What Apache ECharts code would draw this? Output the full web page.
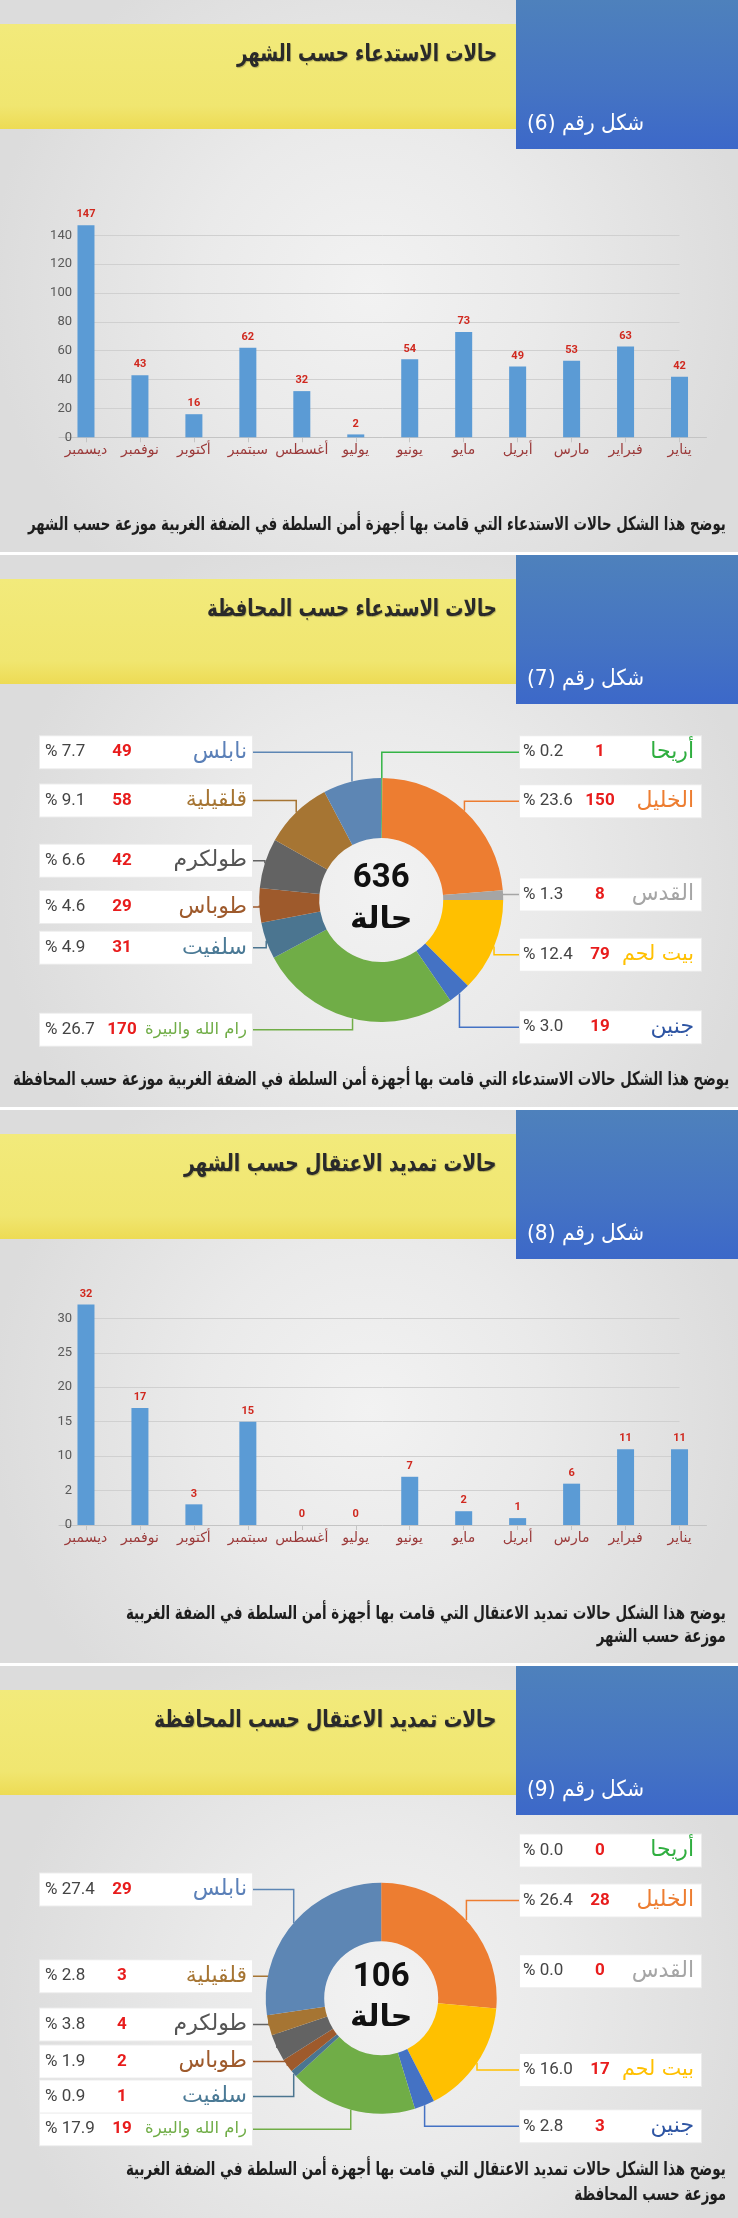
<!DOCTYPE html>
<html dir="ltr">
<head>
<meta charset="utf-8">
<script src="https://cdn.jsdelivr.net/npm/echarts@6/dist/echarts.min.js"></script>
<style>
html,body{margin:0;padding:0;}
body{width:738px;height:2218px;position:relative;overflow:hidden;background:#dedede;font-family:"DejaVu Sans",sans-serif;}
.sec{position:absolute;left:0;width:738px;}
.sep{position:absolute;left:0;width:738px;height:3px;background:#ffffff;z-index:3;}
.band{position:absolute;left:0;width:516px;height:105px;background:linear-gradient(#f2ea7b 0%,#f0e670 78%,#eddb54 100%);z-index:2;}
.blue{position:absolute;left:516px;width:222px;height:149px;background:linear-gradient(#4e81bc 0%,#4574c3 60%,#3c68c9 100%);z-index:2;}
.title{position:absolute;height:40px;line-height:40px;white-space:nowrap;direction:rtl;font-weight:bold;font-size:24px;color:#2a2a2a;text-shadow:1px 1px 1px rgba(0,0,0,0.25);z-index:6;transform-origin:100% 50%;}
.fig{position:absolute;left:527px;height:30px;line-height:30px;white-space:nowrap;direction:rtl;font-size:22px;color:#ffffff;z-index:6;transform-origin:0% 50%;}
.cap{position:absolute;height:26px;line-height:26px;white-space:nowrap;direction:rtl;font-weight:bold;font-size:19px;color:#1e1e1e;z-index:6;transform-origin:100% 50%;}
#chart{position:absolute;left:0;top:0;width:738px;height:2218px;z-index:5;}
</style>
</head>
<body>
<div id="chart"></div>
<script>
// ---------- data ----------
const months = ['ديسمبر','نوفمبر','أكتوبر','سبتمبر','أغسطس','يوليو','يونيو','مايو','أبريل','مارس','فبراير','يناير'];
const summonsByMonth = [147,43,16,62,32,2,54,73,49,53,63,42];
const extensionsByMonth = [32,17,3,15,0,0,7,2,1,6,11,11];
const yTicks1 = [0,20,40,60,80,100,120,140];
const yTicks3 = [0,5,10,15,20,25,30];
const yTickLabels3 = ['0','2','10','15','20','25','30'];
const provinces = ['أريحا','الخليل','القدس','بيت لحم','جنين','رام الله والبيرة','سلفيت','طوباس','طولكرم','قلقيلية','نابلس'];
const summonsByProvince = [1,150,8,79,19,170,31,29,42,58,49];
const extensionsByProvince = [0,28,0,17,3,19,1,2,4,3,29];
const unitWord = 'حالة';
const titles = ['حالات الاستدعاء حسب الشهر','حالات الاستدعاء حسب المحافظة','حالات تمديد الاعتقال حسب الشهر','حالات تمديد الاعتقال حسب المحافظة'];
const figLabels = ['شكل رقم (6)','شكل رقم (7)','شكل رقم (8)','شكل رقم (9)'];
const captions = [
  ['يوضح هذا الشكل حالات الاستدعاء التي قامت بها أجهزة أمن السلطة في الضفة الغربية موزعة حسب الشهر'],
  ['يوضح هذا الشكل حالات الاستدعاء التي قامت بها أجهزة أمن السلطة في الضفة الغربية موزعة حسب المحافظة'],
  ['يوضح هذا الشكل حالات تمديد الاعتقال التي قامت بها أجهزة أمن السلطة في الضفة الغربية','موزعة حسب الشهر'],
  ['يوضح هذا الشكل حالات تمديد الاعتقال التي قامت بها أجهزة أمن السلطة في الضفة الغربية','موزعة حسب المحافظة']
];

// ---------- styles / layout ----------
const provColors = ['#34b446','#ed7d31','#a5a5a5','#ffc000','#4472c4','#70ad47','#4b7590','#9e5a2c','#636363','#a67533','#5d86b4'];
const provTextColors = ['#2fae3f','#ed7d31','#a5a5a5','#ffc000','#2e55a3','#70ad47','#4b7a96','#9e5a2c','#555555','#a67533','#5b80b8'];
const sectionTops = [0,554.7,1110,1666];
const sectionGlow = [[370,290],[381,330],[370,300],[381,330]];
const titleRight = 496.7;
const titleWidths = [260,290,313,342];
const figWidth = 117;
const captionYs = [[523.3],[1078.3],[1611.7,1635],[2168.3,2192.7]];
const captionRight = [726,729,726,726];
const captionWidths = [698,716,600,600];
const pieRows = [
  {'أريحا':['R',752.2],'الخليل':['R',801.2],'القدس':['R',894.5],'بيت لحم':['R',954.7],'جنين':['R',1027.2],
   'رام الله والبيرة':['L',1029.7],'سلفيت':['L',947.8],'طوباس':['L',907],'طولكرم':['L',860.7],'قلقيلية':['L',800.5],'نابلس':['L',752.2]},
  {'أريحا':['R',1850.5],'الخليل':['R',1900.5],'القدس':['R',1971.2],'بيت لحم':['R',2070],'جنين':['R',2126.3],
   'رام الله والبيرة':['L',2129.2],'سلفيت':['L',2096.5],'طوباس':['L',2061.5],'طولكرم':['L',2024.5],'قلقيلية':['L',1976.2],'نابلس':['L',1889.5]}
];
const pieGeom = [{cx:381.2,cy:900,r0:62,r:122},{cx:381.2,cy:1998.3,r0:57,r:115.5}];
const BOX_L = {x:40,w:212.7}, BOX_R = {x:520,w:181.2}, BOX_H = 32;
const NAME_MAX = {L:102, R:72}, NAME_FS = 22;

// ---------- HTML decorations ----------
function fit(el, target){
  const w = el.offsetWidth;
  if (w > 0) el.style.transform = 'scaleX(' + (target / w) + ')';
  return target / w;
}
sectionTops.forEach((t,i)=>{
  const next = i<3 ? sectionTops[i+1]-3 : 2218;
  const sec = document.createElement('div');
  sec.className='sec';
  sec.style.top = t+'px'; sec.style.height=(next-t)+'px';
  sec.style.background = `radial-gradient(circle 380px at ${sectionGlow[i][0]}px ${sectionGlow[i][1]}px, #f2f2f2 0%, #eaeaea 45%, #dcdcdc 100%)`;
  document.body.appendChild(sec);
  if(i>0){const s=document.createElement('div');s.className='sep';s.style.top=(t-3)+'px';document.body.appendChild(s);}
  const band=document.createElement('div');band.className='band';band.style.top=(t+24)+'px';document.body.appendChild(band);
  const blue=document.createElement('div');blue.className='blue';blue.style.top=t+'px';document.body.appendChild(blue);
  const ti=document.createElement('div');ti.className='title';ti.style.top=(t+53.3-20)+'px';ti.style.right=(738-titleRight)+'px';
  ti.textContent=titles[i];document.body.appendChild(ti);fit(ti,titleWidths[i]);
  const fg=document.createElement('div');fg.className='fig';fg.style.top=(t+123.3-15)+'px';fg.textContent=figLabels[i];
  document.body.appendChild(fg);fit(fg,figWidth);
  let sc = 1;
  captions[i].forEach((line,j)=>{
    const c=document.createElement('div');c.className='cap';
    c.style.top=(captionYs[i][j]-13)+'px';c.style.right=(738-captionRight[i])+'px';
    c.textContent=line;document.body.appendChild(c);
    if (j===0) sc = fit(c,captionWidths[i]); else c.style.transform='scaleX('+sc+')';
  });
});

// ---------- chart ----------
const chart = echarts.init(document.getElementById('chart'), null, {renderer:'canvas', width:738, height:2218});
const measureCtx = document.createElement('canvas').getContext('2d');
function nameFont(name, side){
  measureCtx.font = NAME_FS + "px 'DejaVu Sans'";
  const w = measureCtx.measureText(name).width;
  return Math.min(NAME_FS, NAME_FS * NAME_MAX[side] / w);
}

const NARROW = "'Liberation Sans Narrow', 'Roboto', sans-serif";
function barGridAxes(gi, ticks, labels, max, interval){
  return {
    x: {gridIndex:gi,type:'category',data:months,
        axisLine:{show:true,lineStyle:{color:'#c4c4c4',width:1}},
        axisTick:{show:true,alignWithLabel:true,length:5,lineStyle:{color:'#c4c4c4'}},
        axisLabel:{color:'#9b3a3a',fontSize:14,fontFamily:'DejaVu Sans',margin:6,interval:0},
        splitLine:{show:false}},
    y: {gridIndex:gi,type:'value',min:0,max:max,interval:interval,offset:-21,
        axisLine:{show:false},axisTick:{show:false},splitLine:{show:false},
        axisLabel:{color:'#595959',fontSize:13,fontFamily:NARROW,margin:8,
          formatter:(v)=>{const k=ticks.indexOf(v);return k<0?'':labels[k];}}}
  };
}
const ax1 = barGridAxes(0,yTicks1,yTicks1.map(String),160,20);
const ax3 = barGridAxes(1,yTicks3,yTickLabels3,35,5);

function barSeries(idx, data, ticks){
  return {
    type:'bar',xAxisIndex:idx,yAxisIndex:idx,data:data,barWidth:17,z:2,
    itemStyle:{color:'#5b9bd5'},
    label:{show:true,position:'top',distance:5,color:'#d0281e',fontWeight:'bold',fontSize:11,fontFamily:'Roboto'},
    markLine:{silent:true,symbol:'none',z:1,animation:false,label:{show:false},
      lineStyle:{color:'#d0d0d0',width:1,type:'solid'},
      data:ticks.filter(v=>v>0).map(v=>[{coord:[0,v]},{coord:[months.length-1,v]}])}
  };
}

function pieSeries(k, values){
  const total = values.reduce((a,b)=>a+b,0);
  const g = pieGeom[k], rows = pieRows[k];
  const rich = {
    pL:{width:55,align:'left',fontSize:17,fontFamily:'Roboto',color:'#444444',lineHeight:BOX_H},
    cL:{width:44,align:'center',fontSize:17,fontWeight:'bold',fontFamily:'Roboto',color:'#e81c1c',lineHeight:BOX_H},
    pR:{width:57,align:'left',fontSize:17,fontFamily:'Roboto',color:'#444444',lineHeight:BOX_H},
    cR:{width:40,align:'center',fontSize:17,fontWeight:'bold',fontFamily:'Roboto',color:'#e81c1c',lineHeight:BOX_H}
  };
  provinces.forEach((p,i)=>{
    const side = rows[p][0];
    rich['n'+i] = {width: side==='L'?103:74, align:'right', fontSize:nameFont(p,side), fontFamily:'DejaVu Sans', color:provTextColors[i], lineHeight:BOX_H};
  });
  let cum = 0;
  const mids = values.map(v=>{const m=(cum+v/2)/total; cum+=v; return m;});
  return {
    type:'pie', center:[g.cx,g.cy], radius:[g.r0,g.r], startAngle:90, clockwise:true,
    avoidLabelOverlap:false, silent:true,
    data: provinces.map((p,i)=>({
      name:p, value:values[i],
      itemStyle:{color:provColors[i]},
      label:{padding: rows[p][0]==='L'?[0,5,0,5]:[0,7,0,3]},
      labelLine:{show: values[i]>0, lineStyle:{color:provColors[i],width:1.5}}
    })),
    label:{show:true,position:'outside',backgroundColor:'#ffffff',borderColor:'#ececec',borderWidth:1,
      lineHeight:BOX_H,
      formatter:(pa)=>{
        const i=pa.dataIndex, side=rows[provinces[i]][0];
        const pct='% '+(values[i]/total*100).toFixed(1);
        return '{p'+side+'|'+pct+'}{c'+side+'|'+values[i]+'}{n'+i+'|'+provinces[i]+'}';
      },
      rich:rich},
    labelLine:{show:true,smooth:false,length:5,length2:5},
    labelLayout:(pa)=>{
      const i=pa.dataIndex, row=rows[provinces[i]], side=row[0], y=row[1];
      const box = side==='L'?BOX_L:BOX_R;
      const th = 2*Math.PI*mids[i];
      const px = g.cx + g.r*Math.sin(th), py = g.cy - g.r*Math.cos(th);
      const edge = side==='L'? box.x+box.w : box.x;
      const res = {x:box.x, y:y, align:'left', verticalAlign:'middle'};
      if(values[i]>0) res.labelLinePoints=[[px,py],[px,y],[edge,y]];
      return res;
    }
  };
}

function centerTexts(k, values){
  const total = values.reduce((a,b)=>a+b,0);
  const g = pieGeom[k];
  return [
    {type:'text',x:g.cx,y:g.cy-21,z:10,silent:true,style:{text:String(total),font:"bold 33px Roboto",fill:'#111111',align:'center',verticalAlign:'middle',textAlign:'center',textVerticalAlign:'middle'}},
    {type:'text',x:g.cx,y:g.cy+20,z:10,silent:true,style:{text:unitWord,font:"bold 30px 'DejaVu Sans'",fill:'#111111',align:'center',verticalAlign:'middle',textAlign:'center',textVerticalAlign:'middle'}}
  ];
}

const option = {
  animation:false,
  backgroundColor:'transparent',
  grid:[
    {left:59,width:647.5,top:206.4,height:230.9,containLabel:false},
    {left:59,width:647.5,top:1283.9,height:241.1,containLabel:false}
  ],
  xAxis:[ax1.x, ax3.x],
  yAxis:[ax1.y, ax3.y],
  series:[
    barSeries(0, summonsByMonth, yTicks1),
    barSeries(1, extensionsByMonth, yTicks3),
    pieSeries(0, summonsByProvince),
    pieSeries(1, extensionsByProvince)
  ],
  graphic: centerTexts(0, summonsByProvince).concat(centerTexts(1, extensionsByProvince))
};
chart.setOption(option);
</script>
</body>
</html>
